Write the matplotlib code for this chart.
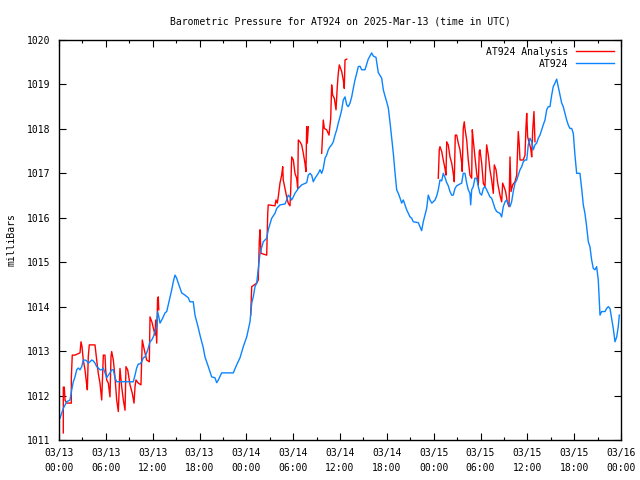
import numpy as np
import matplotlib
matplotlib.use('Agg')
import matplotlib.pyplot as plt
from matplotlib.ticker import MultipleLocator

plt.rcParams['font.family'] = 'DejaVu Sans Mono'
plt.rcParams['font.size'] = 7

# hours since 2025-03-13 00:00 UTC, pressure in mb
station_h = [0.13, 0.55, 0.99, 1.41, 1.63, 1.83, 2.05, 2.27, 2.47, 2.69, 2.91, 3.11, 3.33, 3.55, 3.75,
             3.97, 4.19, 4.39, 4.61, 4.83, 5.03, 5.25, 5.47, 5.68, 5.89, 6.11, 6.32, 6.53, 6.75, 6.96,
             7.17, 7.39, 9.52, 9.74, 9.95, 10.16, 10.38, 10.59, 10.80, 11.02, 11.23, 11.44, 11.66,
             11.88, 12.08, 12.30, 12.52, 12.64, 12.81, 12.94, 13.16, 13.36, 13.58, 13.80, 14.00, 14.44,
             14.64, 14.86, 15.08, 15.28, 15.50, 15.72, 16.14, 16.56, 16.78, 17.20, 17.42, 17.64, 17.85,
             18.06, 18.28, 18.49, 18.70, 18.92, 19.13, 19.34, 19.56, 19.98, 20.20, 20.41, 20.84, 22.33,
             22.76, 23.19, 23.61, 24.05, 24.25, 24.47, 24.69, 24.89, 25.11, 25.33, 25.53, 25.75, 26.17,
             26.61, 26.81, 27.25, 27.67, 27.89, 28.31, 28.95, 29.17, 29.37, 29.59, 29.81, 30.02, 30.23,
             30.66, 31.09, 31.73, 31.94, 32.15, 32.37, 32.58, 32.80, 33.22, 33.44, 33.65, 33.86, 34.08,
             34.29, 34.50, 34.72, 34.93, 35.14, 35.36, 35.58, 35.78, 36.00, 36.22, 36.42, 36.64, 36.86,
             37.06, 37.28, 37.50, 37.70, 37.92, 38.14, 38.34, 38.56, 38.78, 39.20, 39.62, 40.06, 40.26,
             40.61, 40.90, 41.34, 41.55, 41.76, 41.98, 42.19, 42.40, 42.62, 42.83, 43.04, 43.26, 43.47,
             43.68, 43.90, 44.11, 44.33, 44.54, 44.75, 44.97, 45.18, 45.39, 46.03, 46.25, 46.46, 46.67,
             46.89, 47.10, 47.31, 47.53, 47.75, 47.95, 48.17, 48.39, 48.59, 48.81, 49.03, 49.23, 49.45,
             49.67, 49.87, 50.09, 50.31, 50.51, 50.73, 50.95, 51.15, 51.37, 51.59, 51.79, 52.01, 52.23,
             52.43, 52.65, 52.74, 52.87, 53.07, 53.29, 53.51, 53.72, 53.93, 54.15, 54.36, 54.57, 54.79,
             55.00, 55.21, 55.43, 55.64, 55.85, 56.07, 56.49, 56.71, 56.92, 57.14, 57.35, 57.56, 57.78,
             57.99, 58.20, 58.42, 58.64, 58.84, 59.06, 59.28, 59.48, 59.70, 59.92, 60.12, 60.34, 60.56,
             60.76, 60.98, 61.20, 61.40, 61.62, 61.84, 62.04, 62.26, 62.48, 62.68, 62.90, 63.12, 63.32,
             63.54, 63.76, 63.96, 64.18, 64.40, 64.60, 64.82, 65.04, 65.24, 65.46, 65.68, 65.89, 66.10,
             66.32, 66.74, 66.96, 67.17, 67.38, 67.60, 67.81, 68.02, 68.24, 68.45, 68.66, 68.88, 69.09,
             69.22, 69.31, 69.52, 69.95, 70.16, 70.37, 70.59, 70.80, 71.01, 71.23, 71.45, 71.65, 71.78]
station_p = [1011.49, 1011.71, 1011.86, 1011.90, 1012.13, 1012.31, 1012.42, 1012.58, 1012.62, 1012.58,
             1012.65, 1012.80, 1012.80, 1012.78, 1012.73, 1012.76, 1012.80, 1012.78, 1012.73, 1012.65,
             1012.62, 1012.58, 1012.58, 1012.62, 1012.51, 1012.40, 1012.46, 1012.51, 1012.58, 1012.58,
             1012.40, 1012.31, 1012.31, 1012.46, 1012.62, 1012.71, 1012.71, 1012.76, 1012.85, 1012.87,
             1012.96, 1013.07, 1013.21, 1013.25, 1013.32, 1013.44, 1013.55, 1013.89, 1013.75, 1013.63,
             1013.70, 1013.77, 1013.86, 1013.89, 1014.04, 1014.38, 1014.56, 1014.71, 1014.64, 1014.53,
             1014.42, 1014.31, 1014.26, 1014.20, 1014.11, 1014.11, 1013.81, 1013.66, 1013.52, 1013.36,
             1013.21, 1013.07, 1012.87, 1012.76, 1012.65, 1012.54, 1012.42, 1012.40, 1012.29, 1012.35,
             1012.51, 1012.51, 1012.69, 1012.85, 1013.10, 1013.32, 1013.48, 1013.66, 1014.08, 1014.22,
             1014.45, 1014.53, 1014.85, 1015.20, 1015.46, 1015.54, 1015.73, 1015.99, 1016.10, 1016.21,
             1016.29, 1016.31, 1016.40, 1016.51, 1016.47, 1016.40, 1016.47, 1016.55, 1016.66, 1016.74,
             1016.79, 1016.96, 1017.00, 1016.96, 1016.81, 1016.89, 1017.00, 1017.08, 1017.00, 1017.11,
             1017.34, 1017.41, 1017.53, 1017.60, 1017.64, 1017.71, 1017.86, 1017.98, 1018.13, 1018.27,
             1018.43, 1018.65, 1018.72, 1018.54, 1018.50, 1018.58, 1018.72, 1018.91, 1019.10, 1019.25,
             1019.40, 1019.41, 1019.33, 1019.33, 1019.57, 1019.71, 1019.64, 1019.61, 1019.27, 1019.14,
             1018.88, 1018.74, 1018.61, 1018.47, 1018.16, 1017.80, 1017.45, 1017.03, 1016.63, 1016.55,
             1016.45, 1016.33, 1016.40, 1016.29, 1016.18, 1016.10, 1016.02, 1015.99, 1015.91, 1015.89,
             1015.80, 1015.71, 1015.91, 1016.06, 1016.21, 1016.51, 1016.40, 1016.33, 1016.36, 1016.40,
             1016.49, 1016.63, 1016.85, 1016.83, 1017.00, 1016.91, 1016.79, 1016.72, 1016.59, 1016.51,
             1016.51, 1016.66, 1016.72, 1016.74, 1016.76, 1016.78, 1017.00, 1017.00, 1016.78, 1016.63,
             1016.55, 1016.29, 1016.63, 1016.70, 1016.89, 1016.89, 1016.70, 1016.55, 1016.51, 1016.66,
             1016.70, 1016.63, 1016.55, 1016.47, 1016.44, 1016.33, 1016.21, 1016.14, 1016.10, 1016.02,
             1016.25, 1016.36, 1016.40, 1016.33, 1016.25, 1016.36, 1016.59, 1016.78, 1016.85, 1016.96,
             1017.08, 1017.15, 1017.26, 1017.30, 1017.30, 1017.64, 1017.79, 1017.71, 1017.53, 1017.64,
             1017.68, 1017.79, 1017.86, 1017.98, 1018.09, 1018.20, 1018.43, 1018.50, 1018.50, 1018.76,
             1018.95, 1019.03, 1019.12, 1018.95, 1018.76, 1018.58, 1018.50, 1018.35, 1018.20, 1018.09,
             1018.01, 1018.01, 1017.90, 1017.41, 1017.00, 1017.00, 1016.66, 1016.29, 1016.10, 1015.80,
             1015.46, 1015.35, 1015.05, 1014.86, 1014.83, 1014.90, 1014.60, 1014.15, 1013.81, 1013.89,
             1013.89, 1013.96, 1014.00, 1013.96, 1013.74, 1013.51, 1013.21, 1013.32, 1013.55, 1013.81]

# analysis, three separate runs
ana1_h = [0.55, 0.55, 0.68, 0.77, 0.99, 1.41, 1.58, 1.58, 1.70, 2.05, 2.69, 2.82, 2.95, 3.11, 3.33,
          3.55, 3.63, 3.75, 3.88, 4.61, 4.83, 5.03, 5.25, 5.47, 5.68, 5.89, 5.98, 6.11, 6.32, 6.53,
          6.66, 6.75, 6.96, 7.17, 7.39, 7.60, 7.81, 8.03, 8.24, 8.46, 8.58, 8.80, 9.10, 9.39, 9.61,
          9.74, 9.86, 10.16, 10.50, 10.67, 10.89, 11.23, 11.57, 11.66, 11.91, 12.30, 12.39, 12.52,
          12.62, 12.72, 12.78]
ana1_p = [1011.16, 1012.19, 1012.19, 1011.90, 1011.83, 1011.83, 1011.83, 1012.40, 1012.91, 1012.91,
          1012.96, 1013.21, 1013.10, 1012.80, 1012.58, 1012.24, 1012.13, 1012.87, 1013.14, 1013.14,
          1012.80, 1012.50, 1012.28, 1011.90, 1012.91, 1012.91, 1012.58, 1012.35, 1012.28, 1011.97,
          1012.87, 1012.99, 1012.80, 1012.42, 1011.90, 1011.64, 1012.61, 1012.20, 1011.90, 1011.67,
          1012.65, 1012.58, 1012.24, 1012.05, 1011.83, 1012.20, 1012.35, 1012.28, 1012.24, 1013.25,
          1013.06, 1012.80, 1012.76, 1013.77, 1013.65, 1013.36, 1013.70, 1013.18, 1014.15, 1014.22,
          1013.93]

ana2_h = [24.56, 24.69, 25.33, 25.53, 25.66, 25.75, 25.88, 26.61, 26.74, 26.81, 27.67, 27.80, 27.97,
          28.09, 28.31, 28.53, 28.66, 28.73, 28.95, 29.17, 29.37, 29.59, 29.68, 29.81, 30.02, 30.23,
          30.45, 30.58, 30.66, 30.87, 31.09, 31.30, 31.51, 31.64, 31.73, 31.81, 31.94, np.nan,
          33.65, 33.86, 33.99, 34.29, 34.59, 34.81, 34.93, 35.06, 35.27, 35.49, 35.65, 35.78, 35.91,
          36.22, 36.42, 36.55, 36.64, 36.86]
ana2_p = [1013.81, 1014.45, 1014.53, 1014.60, 1015.46, 1015.73, 1015.20, 1015.16, 1016.10, 1016.29,
          1016.27, 1016.40, 1016.33, 1016.47, 1016.78, 1016.96, 1017.15, 1016.85, 1016.66, 1016.47,
          1016.33, 1016.27, 1016.59, 1017.37, 1017.30, 1017.00, 1016.89, 1016.66, 1017.75, 1017.71,
          1017.64, 1017.45, 1017.23, 1017.04, 1018.05, 1017.68, 1018.05, np.nan,
          1017.45, 1018.20, 1018.01, 1017.98, 1017.86, 1018.24, 1018.99, 1018.76, 1018.69, 1018.43,
          1018.95, 1019.25, 1019.44, 1019.29, 1019.10, 1018.91, 1019.55, 1019.57]

ana3_h = [48.59, 48.72, 48.81, 49.03, 49.23, 49.45, 49.58, 49.67, 49.87, 50.09, 50.31, 50.51, 50.64,
          50.77, 50.95, 51.15, 51.37, 51.59, 51.66, 51.79, 51.92, 52.01, 52.23, 52.43, 52.65, 52.87,
          52.95, 53.07, 53.29, 53.51, 53.72, 53.84, 53.93, 54.15, 54.36, 54.57, 54.79, 55.00, 55.21,
          55.43, 55.64, 55.77, 55.99, 56.20, 56.49, 56.71, 56.84, 57.01, 57.22, 57.43, 57.65, 57.78,
          57.91, 58.12, 58.42, 58.64, 58.76, 58.84, 58.97, 59.06, 59.48, 59.70, 59.82, 59.92, 60.04,
          60.25, 60.43, 60.56, 60.68, 60.85, 60.98]
ana3_p = [1016.89, 1017.53, 1017.60, 1017.49, 1017.30, 1017.11, 1016.96, 1017.71, 1017.64, 1017.37,
          1017.23, 1017.00, 1016.81, 1017.86, 1017.86, 1017.68, 1017.53, 1017.23, 1017.04, 1018.01,
          1018.16, 1018.01, 1017.75, 1017.30, 1016.96, 1016.89, 1017.98, 1017.75, 1017.37, 1017.00,
          1016.74, 1017.49, 1017.53, 1017.23, 1016.78, 1016.70, 1017.64, 1017.41, 1017.08, 1016.85,
          1016.55, 1017.19, 1017.08, 1016.78, 1016.51, 1016.36, 1016.78, 1016.70, 1016.59, 1016.36,
          1016.25, 1017.37, 1016.59, 1016.74, 1016.81, 1016.96, 1017.56, 1017.94, 1017.64, 1017.30,
          1017.30, 1017.41, 1018.01, 1018.35, 1017.82, 1017.68, 1017.56, 1017.37, 1017.94, 1018.39,
          1017.71]

tick_hours = list(range(0, 73, 6))
tick_labels = ['03/13\n00:00', '03/13\n06:00', '03/13\n12:00', '03/13\n18:00',
               '03/14\n00:00', '03/14\n06:00', '03/14\n12:00', '03/14\n18:00',
               '03/15\n00:00', '03/15\n06:00', '03/15\n12:00', '03/15\n18:00',
               '03/16\n00:00']

fig = plt.figure(figsize=(6.4, 4.8), dpi=100)
ax = fig.add_axes([59/640, 40/480, 562/640, 400/480])

ax.plot(ana1_h, ana1_p, color='#ff0000', lw=1, label='AT924 Analysis')
ax.plot(ana2_h, ana2_p, color='#ff0000', lw=1)
ax.plot(ana3_h, ana3_p, color='#ff0000', lw=1)
ax.plot(station_h, station_p, color='#0a84ff', lw=1, label='AT924')

ax.set_xlim(0, 72)
ax.set_ylim(1011, 1020)
ax.set_xticks(tick_hours)
ax.set_xticklabels(tick_labels, linespacing=1.6)
ax.xaxis.set_minor_locator(MultipleLocator(3))
ax.set_yticks(range(1011, 1021))
ax.tick_params(which='both', direction='in', top=True, right=True, colors='black')
ax.tick_params(which='major', length=5, width=0.8, pad=6)
ax.tick_params(which='minor', length=2.5, width=0.8)
for s in ax.spines.values():
    s.set_linewidth(1)

ax.set_ylabel('milliBars', labelpad=8)
ax.set_title('Barometric Pressure for AT924 on 2025-Mar-13 (time in UTC)', fontsize=7, pad=11)

leg = ax.legend(loc='upper right', frameon=False, markerfirst=False, handlelength=3.9,
                handletextpad=0.8, labelspacing=0.2, borderaxespad=0.3)
for t in leg.get_texts():
    t.set_ha('right')

fig.savefig('out.png', dpi=100)
